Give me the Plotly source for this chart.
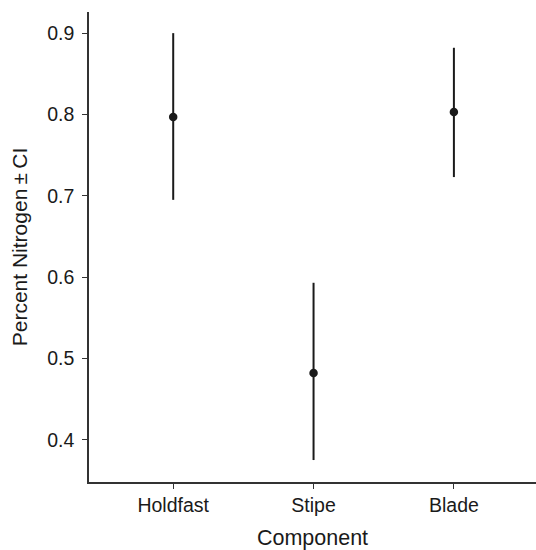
import plotly.graph_objects as go

components = ["Holdfast", "Stipe", "Blade"]
means = [0.797, 0.482, 0.803]
upper = [0.900, 0.593, 0.882]
lower = [0.695, 0.375, 0.723]

err_plus = [u - m for u, m in zip(upper, means)]
err_minus = [m - l for m, l in zip(means, lower)]

FONT = "Liberation Sans, Arial, Helvetica, sans-serif"

fig = go.Figure()
fig.add_trace(go.Scatter(
    x=[1, 2, 3],
    y=means,
    mode="markers",
    marker=dict(color="#1a1a1a", size=8.5),
    error_y=dict(type="data", symmetric=False, array=err_plus, arrayminus=err_minus,
                 color="#1a1a1a", thickness=2, width=0),
    showlegend=False,
))

fig.update_layout(
    width=536, height=550,
    margin=dict(l=89, r=0, t=12, b=68),
    paper_bgcolor="white", plot_bgcolor="white",
    font=dict(family=FONT, color="#1a1a1a"),
    xaxis=dict(
        range=[0.4, 3.585],
        tickmode="array", tickvals=[1, 2, 3], ticktext=components,
        showline=True, linecolor="#333333", linewidth=1.5,
        ticks="outside", ticklen=5, tickcolor="#333333", tickwidth=1.2,
        showgrid=False, zeroline=False,
        tickfont=dict(size=19.5, color="#1a1a1a"),
        title=dict(text="Component", font=dict(size=21.5, color="#1a1a1a"), standoff=15),
    ),
    yaxis=dict(
        range=[0.348, 0.926],
        tickvals=[0.4, 0.5, 0.6, 0.7, 0.8, 0.9],
        ticktext=["0.4", "0.5", "0.6", "0.7", "0.8", "0.9"],
        showline=True, linecolor="#333333", linewidth=1.5,
        ticks="outside", ticklen=5, tickcolor="#333333", tickwidth=1.2,
        ticklabelstandoff=4,
        showgrid=False, zeroline=False,
        tickfont=dict(size=19.5, color="#1a1a1a"),
        title=dict(text="Percent Nitrogen\u2009±\u2009CI", font=dict(size=21, color="#1a1a1a"), standoff=14),
    ),
)

fig.write_html("out.html")
